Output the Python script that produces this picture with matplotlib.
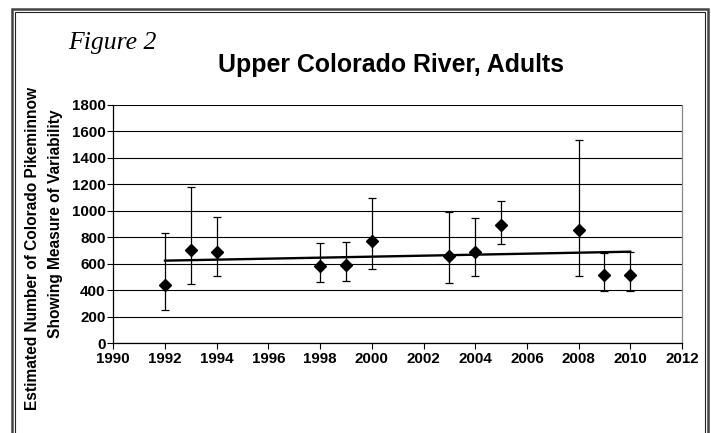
import numpy as np
import matplotlib
matplotlib.use("Agg")
import matplotlib.pyplot as plt
from matplotlib.lines import Line2D

# ---- data ----
years = [1992, 1993, 1994, 1998, 1999, 2000, 2003, 2004, 2005, 2008, 2009, 2010]
estimates = [440, 705, 687, 584, 592, 773, 662, 687, 891, 856, 516, 516]
upper = [831, 1181, 957, 760, 765, 1095, 989, 949, 1075, 1533, 680, 690]
lower = [252, 451, 509, 463, 468, 564, 456, 511, 748, 511, 398, 398]
x_ticks = list(range(1990, 2013, 2))
y_ticks = list(range(0, 1801, 200))
title = "Upper Colorado River, Adults"
fig_label = "Figure 2"
ylabel_1 = "Estimated Number of Colorado Pikeminnow"
ylabel_2 = "Showing Measure of Variability"

W, H = 711, 433
fig = plt.figure(figsize=(W / 100, H / 100), dpi=100)
plt.rcParams['font.family'] = ['Liberation Sans', 'DejaVu Sans']

def fx(px):
    return px / W

def fy(py):
    return 1 - py / H

ax = fig.add_axes([fx(113.3), fy(343.3), fx(682) - fx(113.3), fy(105) - fy(343.3)])

yerr = [np.array(estimates) - np.array(lower), np.array(upper) - np.array(estimates)]
ax.errorbar(years, estimates, yerr=yerr, fmt='D', color='black', ecolor='black',
            elinewidth=0.9, capsize=3.2, capthick=0.9, markersize=6.5, zorder=3)

coef = np.polyfit(years, estimates, 1)
tx = np.array([years[0], years[-1]])
ax.plot(tx, np.polyval(coef, tx), color='black', lw=1.7, zorder=4)

ax.set_xlim(1990, 2012)
ax.set_ylim(0, 1800)
ax.set_xticks(x_ticks)
ax.set_yticks(y_ticks)
ax.set_xticklabels([str(v) for v in x_ticks], fontweight='bold', fontsize=10.9)
ax.set_yticklabels([str(v) for v in y_ticks], fontweight='bold', fontsize=10.9)
ax.tick_params(axis='both', direction='out', length=4, width=0.8, color='black')
ax.tick_params(axis='x', pad=2.2)
ax.tick_params(axis='y', pad=1.5)
ax.yaxis.grid(True, color='black', lw=0.8)
ax.set_axisbelow(True)
ax.spines['top'].set_visible(False)
ax.spines['right'].set_color('#888888')
ax.spines['left'].set_color('black')
ax.spines['bottom'].set_color('black')
for s in ['left', 'bottom', 'right']:
    ax.spines[s].set_linewidth(0.9)

fig.text(fx(391), fy(65), title, ha='center', va='center', fontsize=17.9, fontweight='bold')
fig.text(fx(68), fy(43), fig_label, ha='left', va='center', fontsize=18.5, style='italic',
         family=['Liberation Serif', 'DejaVu Serif'])
fig.text(fx(33), fy(249), ylabel_1, rotation=90, ha='center', va='center',
         fontsize=11.2, fontweight='bold')
fig.text(fx(56), fy(224), ylabel_2, rotation=90, ha='center', va='center',
         fontsize=11.2, fontweight='bold')

# double-line frame (open at the bottom)
def frame(left, top, right, bottom, lw, color):
    xs = [fx(left), fx(left), fx(right), fx(right)]
    ys = [fy(bottom), fy(top), fy(top), fy(bottom)]
    fig.add_artist(Line2D(xs, ys, lw=lw, color=color, solid_joinstyle='miter'))

frame(12, 9, 708, 440, 1.8, '#444444')
frame(15, 12, 705, 440, 0.8, '#222222')

fig.savefig("out.png", dpi=100)
